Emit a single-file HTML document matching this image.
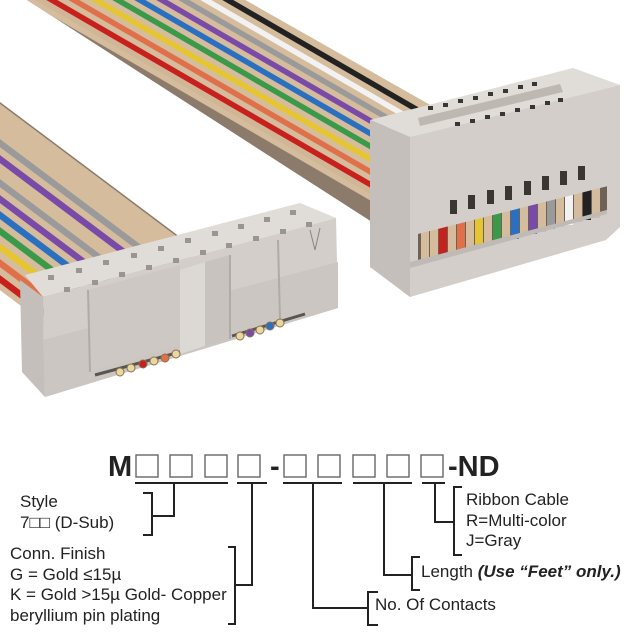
<!DOCTYPE html>
<html><head><meta charset="utf-8"><style>
html,body{margin:0;padding:0;background:#fff;}
svg{display:block;}
text{font-family:"Liberation Sans",Arial,sans-serif;fill:#222;}
</style></head><body>
<svg width="640" height="640" viewBox="0 0 640 640" xmlns="http://www.w3.org/2000/svg">
<defs>
<clipPath id="cb"><polygon points="27,0 245,0 430,105 372,222"/></clipPath>
<clipPath id="cl"><polygon points="0,102 200,252 60,335 0,290"/></clipPath>
</defs>
<!-- back ribbon -->
<polygon points="27,0 245,0 430,105 372,222" fill="#8c7b6a"/>
<g clip-path="url(#cb)" stroke-width="8" stroke-linecap="butt" fill="none">
<line x1="15" y1="-10" x2="450" y2="242" stroke="#d4bc9c"/>
<line x1="26" y1="-10" x2="461" y2="242" stroke="#cfb696"/>
<line x1="37" y1="-10" x2="472" y2="242" stroke="#c8201c"/>
<line x1="48" y1="-10" x2="483" y2="242" stroke="#d4bc9c"/>
<line x1="59" y1="-10" x2="494" y2="242" stroke="#e0704a"/>
<line x1="70" y1="-10" x2="505" y2="242" stroke="#d4bc9c"/>
<line x1="81" y1="-10" x2="516" y2="242" stroke="#e6c630"/>
<line x1="92" y1="-10" x2="527" y2="242" stroke="#d4bc9c"/>
<line x1="103" y1="-10" x2="538" y2="242" stroke="#3a9a4a"/>
<line x1="114" y1="-10" x2="549" y2="242" stroke="#d4bc9c"/>
<line x1="125" y1="-10" x2="560" y2="242" stroke="#2a70c0"/>
<line x1="136" y1="-10" x2="571" y2="242" stroke="#d4bc9c"/>
<line x1="147" y1="-10" x2="582" y2="242" stroke="#7a4aa8"/>
<line x1="158" y1="-10" x2="593" y2="242" stroke="#d4bc9c"/>
<line x1="169" y1="-10" x2="604" y2="242" stroke="#9a9a9a"/>
<line x1="180" y1="-10" x2="615" y2="242" stroke="#d4bc9c"/>
<line x1="191" y1="-10" x2="626" y2="242" stroke="#f2f2f2"/>
<line x1="202" y1="-10" x2="637" y2="242" stroke="#d4bc9c"/>
<line x1="213" y1="-10" x2="648" y2="242" stroke="#222"/>
<line x1="224" y1="-10" x2="659" y2="242" stroke="#d4bc9c"/>
<line x1="235" y1="-10" x2="670" y2="242" stroke="#d4bc9c"/>
</g>
<!-- left ribbon -->
<polygon points="0,102 200,252 60,335 0,290" fill="#8c7b6a"/>
<g clip-path="url(#cl)" stroke-width="9" fill="none">
<line x1="-10" y1="286" x2="230" y2="466" stroke="#d4bc9c"/>
<line x1="-10" y1="278" x2="230" y2="458" stroke="#d4bc9c"/>
<line x1="-10" y1="270" x2="230" y2="450" stroke="#c8201c"/>
<line x1="-10" y1="262" x2="230" y2="442" stroke="#d4bc9c"/>
<line x1="-10" y1="254" x2="230" y2="434" stroke="#e0704a"/>
<line x1="-10" y1="246" x2="230" y2="426" stroke="#d4bc9c"/>
<line x1="-10" y1="238" x2="230" y2="418" stroke="#e6c630"/>
<line x1="-10" y1="230" x2="230" y2="410" stroke="#d4bc9c"/>
<line x1="-10" y1="222" x2="230" y2="402" stroke="#3a9a4a"/>
<line x1="-10" y1="214" x2="230" y2="394" stroke="#d4bc9c"/>
<line x1="-10" y1="206" x2="230" y2="386" stroke="#2a70c0"/>
<line x1="-10" y1="198" x2="230" y2="378" stroke="#d4bc9c"/>
<line x1="-10" y1="190" x2="230" y2="370" stroke="#7a4aa8"/>
<line x1="-10" y1="182" x2="230" y2="362" stroke="#d4bc9c"/>
<line x1="-10" y1="174" x2="230" y2="354" stroke="#9a9a9a"/>
<line x1="-10" y1="166" x2="230" y2="346" stroke="#d4bc9c"/>
<line x1="-10" y1="158" x2="230" y2="338" stroke="#d4bc9c"/>
<line x1="-10" y1="150" x2="230" y2="330" stroke="#7a4aa8"/>
<line x1="-10" y1="142" x2="230" y2="322" stroke="#d4bc9c"/>
<line x1="-10" y1="134" x2="230" y2="314" stroke="#9a9a9a"/>
<line x1="-10" y1="126" x2="230" y2="306" stroke="#d4bc9c"/>
<line x1="-10" y1="118" x2="230" y2="298" stroke="#d4bc9c"/>
<line x1="-10" y1="110" x2="230" y2="290" stroke="#d4bc9c"/>
<line x1="-10" y1="102" x2="230" y2="282" stroke="#d4bc9c"/>
</g>

<!-- right connector -->
<polygon points="370,120 573,68 620,85 410,137" fill="#e0dcd7"/>
<polygon points="370,120 410,137 410,297 370,267" fill="#c4bfba"/>
<polygon points="410,137 620,85 620,227 606,240 410,297" fill="#d3cec9"/>
<polygon points="418,228 607,183 607,210 418,262" fill="#6e6258"/>
<g stroke-width="8">
<line x1="425" y1="226" x2="425" y2="262" stroke="#d4bc9c"/>
<line x1="434" y1="224" x2="434" y2="260" stroke="#d4bc9c"/>
<line x1="443" y1="222" x2="443" y2="257" stroke="#c8201c"/>
<line x1="452" y1="220" x2="452" y2="255" stroke="#d4bc9c"/>
<line x1="461" y1="218" x2="461" y2="253" stroke="#e0704a"/>
<line x1="470" y1="216" x2="470" y2="250" stroke="#d4bc9c"/>
<line x1="479" y1="214" x2="479" y2="248" stroke="#e6c630"/>
<line x1="488" y1="212" x2="488" y2="246" stroke="#d4bc9c"/>
<line x1="497" y1="210" x2="497" y2="243" stroke="#3a9a4a"/>
<line x1="506" y1="208" x2="506" y2="241" stroke="#d4bc9c"/>
<line x1="515" y1="206" x2="515" y2="239" stroke="#2a70c0"/>
<line x1="524" y1="204" x2="524" y2="236" stroke="#d4bc9c"/>
<line x1="533" y1="202" x2="533" y2="234" stroke="#7a4aa8"/>
<line x1="542" y1="200" x2="542" y2="232" stroke="#d4bc9c"/>
<line x1="551" y1="198" x2="551" y2="229" stroke="#9a9a9a"/>
<line x1="560" y1="196" x2="560" y2="227" stroke="#d4bc9c"/>
<line x1="569" y1="194" x2="569" y2="225" stroke="#f2f2f2"/>
<line x1="578" y1="192" x2="578" y2="222" stroke="#d4bc9c"/>
<line x1="587" y1="190" x2="587" y2="220" stroke="#222"/>
<line x1="596" y1="188" x2="596" y2="218" stroke="#d4bc9c"/>
</g>
<polygon points="410,190 620,138 620,183 410,236" fill="#d3cec9"/>
<polygon points="410,262 607,210 607,214 410,268" fill="#bfbab5"/>
<g fill="#3a3632">
<rect x="450" y="200" width="7" height="14"/><rect x="468" y="195" width="7" height="14"/>
<rect x="487" y="190" width="7" height="14"/><rect x="505" y="186" width="7" height="14"/>
<rect x="524" y="181" width="7" height="14"/><rect x="542" y="176" width="7" height="14"/>
<rect x="560" y="171" width="7" height="14"/><rect x="578" y="166" width="7" height="14"/>
</g>
<polygon points="418,118 560,84 563,92 420,126" fill="#bdb8b2"/>
<g fill="#3a3632">
<rect x="428" y="106" width="5" height="4"/><rect x="443" y="103" width="5" height="4"/><rect x="458" y="99" width="5" height="4"/><rect x="473" y="96" width="5" height="4"/><rect x="488" y="92" width="5" height="4"/><rect x="503" y="89" width="5" height="4"/><rect x="518" y="85" width="5" height="4"/><rect x="532" y="82" width="5" height="4"/>
<rect x="455" y="122" width="5" height="4"/><rect x="470" y="119" width="5" height="4"/><rect x="485" y="115" width="5" height="4"/><rect x="500" y="112" width="5" height="4"/><rect x="515" y="108" width="5" height="4"/><rect x="530" y="105" width="5" height="4"/><rect x="545" y="101" width="5" height="4"/><rect x="558" y="98" width="5" height="4"/>
</g>

<!-- left connector -->
<polygon points="25,275 300,203 336,218 43,297" fill="#e0dcd7"/>
<polygon points="20,280 43,297 45,397 22,372" fill="#c4bfba"/>
<polygon points="43,297 336,218 338,308 45,397" fill="#d3cec9"/>
<polygon points="43,340 338,262 338,308 45,397" fill="#cbc6c1"/>
<polygon points="88,290 180,265 180,345 90,372" fill="#cdc8c3"/>
<line x1="88" y1="290" x2="90" y2="372" stroke="#b0aba6" stroke-width="2"/>
<polygon points="180,270 205,262 205,346 180,354" fill="#dcd8d3"/>
<polygon points="205,262 230,255 230,339 205,346" fill="#c8c3be"/>
<line x1="230" y1="255" x2="230" y2="339" stroke="#b0aba6" stroke-width="2"/>
<line x1="278" y1="240" x2="280" y2="320" stroke="#b0aba6" stroke-width="2"/>
<polyline points="310,230 315,250 320,228" fill="none" stroke="#8a857f" stroke-width="1"/>
<line x1="95" y1="375" x2="180" y2="352" stroke="#5a5550" stroke-width="3"/>
<line x1="232" y1="336" x2="305" y2="314" stroke="#5a5550" stroke-width="3"/>
<g stroke="#8a7050" stroke-width="1">
<circle cx="120" cy="372" r="4" fill="#e8d8a0"/><circle cx="131" cy="368" r="4" fill="#e8d8a0"/><circle cx="143" cy="364" r="4" fill="#c8201c"/><circle cx="154" cy="361" r="4" fill="#e8d8a0"/><circle cx="165" cy="358" r="4" fill="#e0704a"/><circle cx="176" cy="354" r="4" fill="#e8d8a0"/>
<circle cx="240" cy="336" r="4" fill="#e8d8a0"/><circle cx="250" cy="333" r="4" fill="#7a4aa8"/><circle cx="260" cy="330" r="4" fill="#e8d8a0"/><circle cx="270" cy="326" r="4" fill="#2a70c0"/><circle cx="280" cy="323" r="4" fill="#e8d8a0"/>
</g>
<g fill="#9a958f">
<rect x="48" y="275" width="6" height="5"/><rect x="76" y="268" width="6" height="5"/><rect x="103" y="260" width="6" height="5"/><rect x="131" y="253" width="6" height="5"/><rect x="158" y="246" width="6" height="5"/><rect x="185" y="238" width="6" height="5"/><rect x="212" y="231" width="6" height="5"/><rect x="238" y="224" width="6" height="5"/><rect x="264" y="217" width="6" height="5"/><rect x="290" y="210" width="6" height="5"/>
<rect x="64" y="287" width="6" height="5"/><rect x="92" y="280" width="6" height="5"/><rect x="119" y="272" width="6" height="5"/><rect x="146" y="265" width="6" height="5"/><rect x="173" y="258" width="6" height="5"/><rect x="200" y="250" width="6" height="5"/><rect x="226" y="243" width="6" height="5"/><rect x="253" y="236" width="6" height="5"/><rect x="280" y="229" width="6" height="5"/><rect x="306" y="222" width="6" height="5"/>
</g>

<!-- part number -->
<text x="108" y="476" font-size="29" font-weight="bold">M</text>
<g fill="none" stroke="#666" stroke-width="1.4">
<rect x="136" y="455" width="22" height="22"/><rect x="170" y="455" width="22" height="22"/><rect x="205" y="455" width="22" height="22"/><rect x="238" y="455" width="22" height="22"/>
<rect x="284" y="455" width="22" height="22"/><rect x="318" y="455" width="22" height="22"/><rect x="353" y="455" width="22" height="22"/><rect x="387" y="455" width="22" height="22"/><rect x="421" y="455" width="22" height="22"/>
</g>
<text x="270" y="476" font-size="29" font-weight="bold">-</text>
<text x="448" y="476" font-size="29" font-weight="bold">-ND</text>

<g stroke="#222" stroke-width="2" fill="none">
<line x1="135" y1="483" x2="228" y2="483"/><line x1="237" y1="483" x2="267" y2="483"/>
<line x1="283" y1="483" x2="342" y2="483"/><line x1="353" y1="483" x2="412" y2="483"/><line x1="422" y1="483" x2="445" y2="483"/>
<polyline points="174,483 174,516 152,516"/><polyline points="143,493 152,493 152,535 143,535"/>
<polyline points="252,483 252,585 235,585"/><polyline points="228,547 235,547 235,624 228,624"/>
<polyline points="313,483 313,608 368,608"/><polyline points="378,592 368,592 368,625 378,625"/>
<polyline points="384,483 384,575 412,575"/><polyline points="420,557 412,557 412,590 420,590"/>
<polyline points="435,483 435,522 454,522"/><polyline points="462,487 454,487 454,555 462,555"/>
</g>
<g font-size="17">
<text x="20" y="507">Style</text>
<text x="20" y="528">7□□ (D-Sub)</text>
<text x="10" y="559">Conn. Finish</text>
<text x="10" y="580">G = Gold ≤15µ</text>
<text x="10" y="600">K = Gold &gt;15µ Gold- Copper</text>
<text x="10" y="621">beryllium pin plating</text>
<text x="375" y="610">No. Of Contacts</text>
<text x="421" y="577">Length <tspan font-weight="bold" font-style="italic">(Use “Feet” only.)</tspan></text>
<text x="466" y="505">Ribbon Cable</text>
<text x="466" y="526">R=Multi-color</text>
<text x="466" y="546">J=Gray</text>
</g>
</svg>
</body></html>
